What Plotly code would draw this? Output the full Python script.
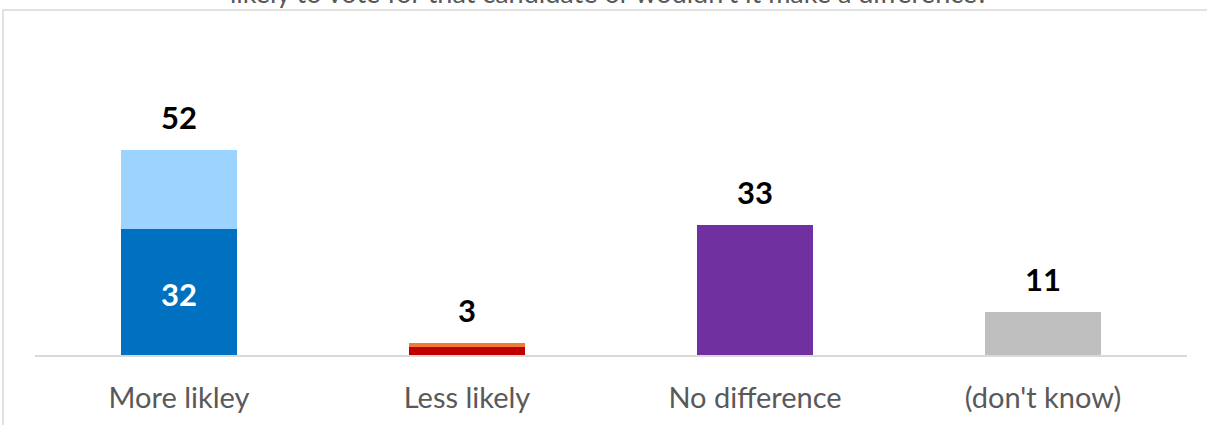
import plotly.graph_objects as go

categories = ["More likley", "Less likely", "No difference", "(don't know)"]
strong = [32, 2, 33, 11]          # lower segment
soft = [20, 1, 0, 0]              # upper segment
totals = [52, 3, 33, 11]
inner_labels = ["32", "", "", ""]
strong_colors = ["#0070C0", "#C00000", "#7030A0", "#BFBFBF"]
soft_colors = ["#9DD3FF", "#ED7D31", "#7030A0", "#BFBFBF"]
title_text = "likely to vote for that candidate or wouldn't it make a difference?"

FONT = "Lato"
W, H = 1207, 425
L, R, T, B = 35, 20, 20, 70
PW, PH = W - L - R, H - T - B

fig = go.Figure()
fig.add_trace(go.Bar(x=categories, y=strong, marker=dict(color=strong_colors, line=dict(width=0)),
                     width=0.403, hoverinfo="skip"))
fig.add_trace(go.Bar(x=categories, y=soft, marker=dict(color=soft_colors, line=dict(width=0)),
                     width=0.403, hoverinfo="skip"))

anns = []
for c, t in zip(categories, totals):
    anns.append(dict(x=c, y=t, xref="x", yref="y", text=f"<b>{t}</b>", showarrow=False,
                     yanchor="middle", yshift=33, font=dict(family=FONT, size=31, color="#000000")))
for c, s, lab in zip(categories, strong, inner_labels):
    if lab:
        anns.append(dict(x=c, y=s / 2, xref="x", yref="y", text=f"<b>{lab}</b>", showarrow=False,
                         yanchor="middle", yshift=-2, font=dict(family=FONT, size=31, color="#FFFFFF")))
# cut-off title at top
anns.append(dict(x=(609 - L) / PW, y=(T + PH - 11) / PH, xref="paper", yref="paper", text=title_text,
                 showarrow=False, xanchor="center", yanchor="bottom",
                 font=dict(family=FONT, size=27, color="#595959")))

shapes = [dict(type="rect", xref="paper", yref="paper",
               x0=(3 - L) / PW, x1=(1215 - L) / PW,
               y0=(T + PH - 440) / PH, y1=(T + PH - 10) / PH,
               line=dict(color="#D9D9D9", width=1.5), fillcolor="rgba(0,0,0,0)", layer="below")]

fig.update_layout(
    width=W, height=H, margin=dict(l=L, r=R, t=T, b=B),
    barmode="stack", showlegend=False,
    paper_bgcolor="#FFFFFF", plot_bgcolor="#FFFFFF",
    annotations=anns, shapes=shapes,
    xaxis=dict(showline=True, linecolor="#D9D9D9", linewidth=2, showgrid=False, ticks="",
               tickfont=dict(family=FONT, size=29, color="#595959"), range=[-0.5, 3.5],
               ticklabelstandoff=16, fixedrange=True),
    yaxis=dict(visible=False, range=[0, PH / 3.94], fixedrange=True),
)
fig.write_html("out.html", config={"displayModeBar": False})
